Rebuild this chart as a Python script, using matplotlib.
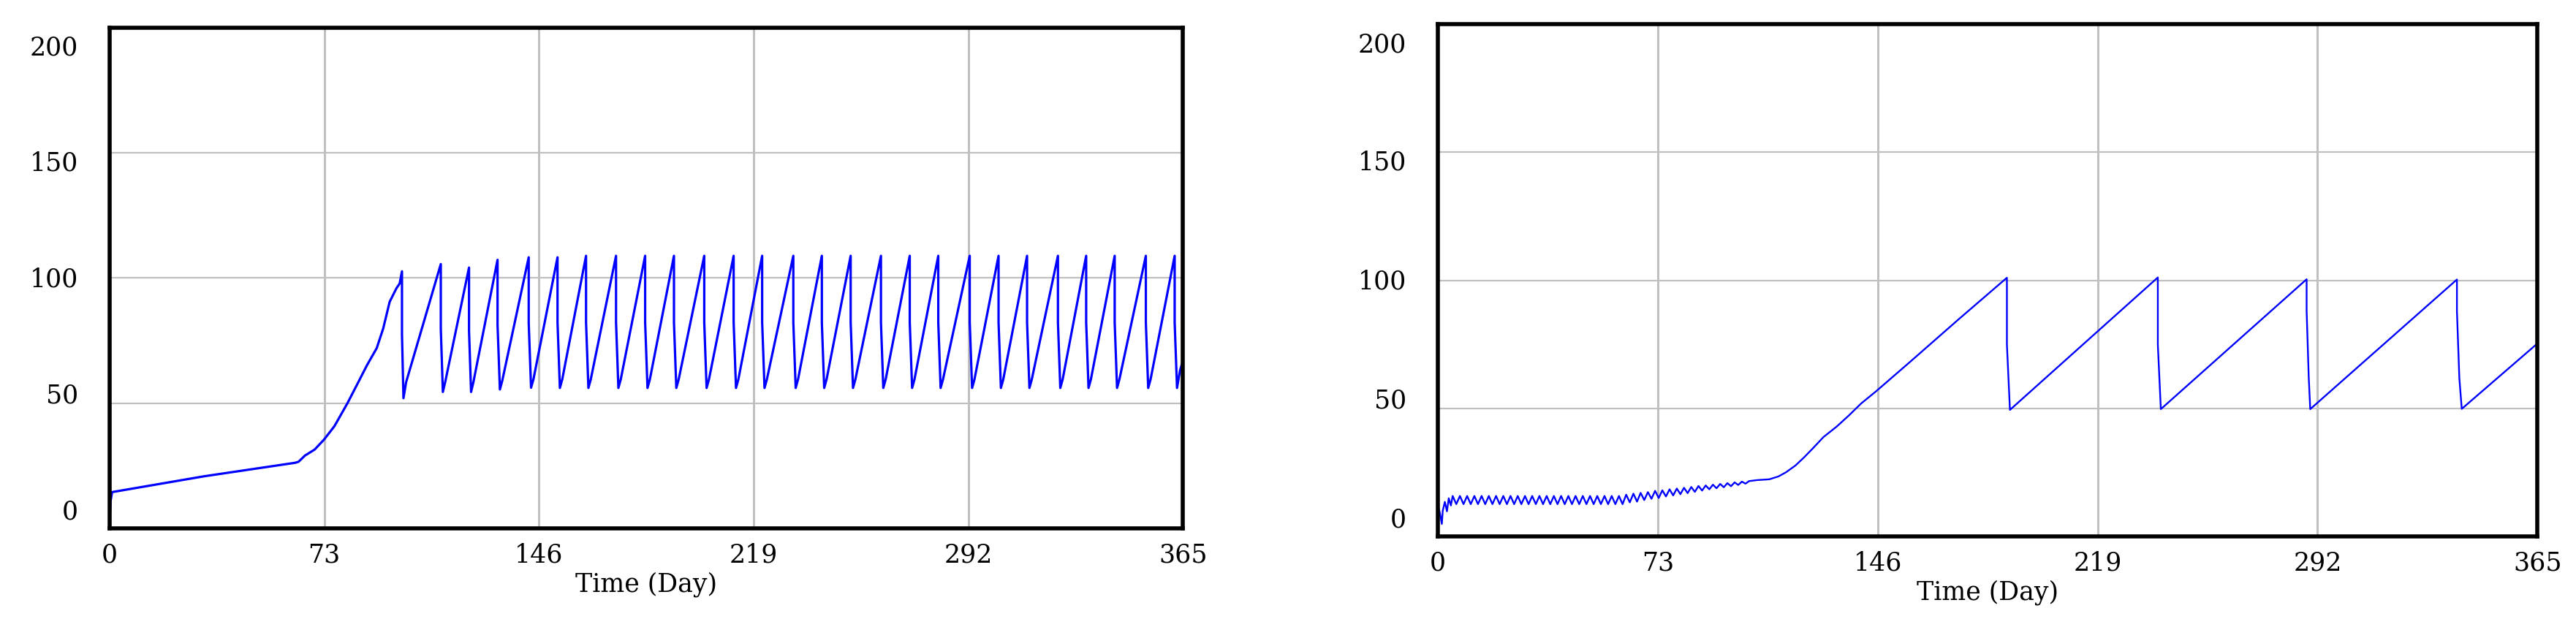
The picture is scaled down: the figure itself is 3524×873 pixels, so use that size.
import matplotlib
matplotlib.use("Agg")
import matplotlib.pyplot as plt

# left run: vertices (day, level)
left_day = [
    0, 0.3, 0.8, 32, 63, 64.2, 66.4, 69.7, 72.9, 76.4, 80.8, 84.1, 87.5,
    90.8, 93.0, 95.2, 97.5, 98.6, 99.4,
    99.4, 99.9, 100.8, 112.6,
    112.6, 113.3, 114.1, 122.2,
    122.2, 122.9, 123.7, 131.9,
    131.9, 132.7, 133.5, 142.5,
    142.5, 143.3, 144.1, 152.3,
    152.3, 153.1, 153.9, 162.0,
    162.0, 162.8, 163.6, 172.2,
    172.2, 173.0, 173.8, 182.1,
    182.1, 182.9, 183.7, 191.9,
    191.9, 192.7, 193.5, 202.2,
    202.2, 203.0, 203.8, 212.2,
    212.2, 213.0, 213.8, 221.9,
    221.9, 222.7, 223.5, 232.5,
    232.5, 233.3, 234.1, 242.2,
    242.2, 243.0, 243.8, 252.0,
    252.0, 252.8, 253.6, 262.3,
    262.3, 263.1, 263.9, 272.1,
    272.1, 272.9, 273.7, 281.8,
    281.8, 282.6, 283.4, 292.5,
    292.5, 293.3, 294.1, 302.3,
    302.3, 303.1, 303.9, 312.0,
    312.0, 312.8, 313.6, 322.5,
    322.5, 323.3, 324.1, 332.1,
    332.1, 332.9, 333.7, 341.8,
    341.8, 342.6, 343.4, 352.4,
    352.4, 353.2, 354.0, 362.2,
    362.2, 363.0, 364.0, 365.0,
]
left_val = [
    4.7, 11.0, 14.5, 20.8, 26.2, 26.6, 29.1, 31.5, 35.5, 40.8, 49.9, 57.4, 65.2,
    72.0, 79.8, 90.5, 95.9, 97.8, 102.7,
    77.4, 52.0, 58.4, 105.6,
    79.8, 54.5, 58.5, 104.2,
    78.9, 54.5, 58.5, 107.3,
    81.3, 55.5, 59.0, 108.3,
    82.0, 56.2, 59.5, 108.3,
    82.3, 56.1, 59.5, 108.9,
    82.3, 56.1, 59.5, 108.9,
    82.3, 56.1, 59.5, 108.9,
    82.3, 56.1, 59.5, 108.9,
    82.3, 56.1, 59.5, 108.9,
    82.3, 56.1, 59.5, 108.9,
    82.3, 56.1, 59.5, 108.9,
    82.3, 56.1, 59.5, 108.9,
    82.3, 56.1, 59.5, 108.9,
    82.3, 56.1, 59.5, 108.9,
    82.3, 56.1, 59.5, 108.9,
    82.3, 56.1, 59.5, 108.9,
    82.3, 56.1, 59.5, 108.9,
    82.3, 56.1, 59.5, 108.9,
    82.3, 56.1, 59.5, 108.9,
    82.3, 56.1, 59.5, 108.9,
    82.3, 56.1, 59.5, 108.9,
    82.3, 56.1, 59.5, 108.9,
    82.3, 56.1, 59.5, 108.9,
    82.3, 56.1, 59.5, 108.9,
    82.3, 56.1, 59.5, 108.9,
    82.3, 56.1, 63.0, 67.0,
]

# right run
right_day = [
    0, 0.1, 0.7, 1.3, 1.6, 2.3, 3.0, 3.6, 4.3,
    4.9, 6.1, 7.3, 8.5, 9.7, 10.9, 12.1, 13.3, 14.5, 15.7, 16.9, 18.1, 19.3, 20.5, 21.7, 22.9,
    24.1, 25.3, 26.5, 27.7, 28.9, 30.1, 31.3, 32.5, 33.7, 34.9, 36.1, 37.3, 38.5, 39.7, 40.9, 42.1,
    43.3, 44.5, 45.7, 46.9, 48.1, 49.3, 50.5, 51.7, 52.9, 54.1, 55.3, 56.5, 57.7, 58.9, 60.1, 61.3,
    62.5, 63.7, 64.9, 66.1, 67.3, 68.5, 69.7, 70.9, 72.1, 73.3, 74.5, 75.7, 76.9, 78.1, 79.3, 80.5,
    81.7, 82.9, 84.1, 85.3, 86.5, 87.7, 88.9, 90.1, 91.3, 92.5, 93.7, 94.9, 96.1, 97.3, 98.5, 99.7,
    100.9, 102.1, 103.3,
    106.0, 110.0, 113.0, 115.5, 118.7, 121.5, 124.4, 128.0, 132.4, 136.5, 140.5, 145.5, 156.7, 172.9,
    188.9, 188.9, 189.9, 239.0, 239.0, 240.0, 288.4, 288.4, 289.1, 289.6,
    338.3, 338.3, 339.1, 339.9, 365.0,
]
right_val = [
    5.0, 12.0, 8.8, 4.9, 10.0, 13.5, 9.8, 14.9, 12.1,
    15.8, 12.6, 15.8, 12.6, 15.8, 12.6, 15.8, 12.6, 15.8, 12.6, 15.8, 12.6, 15.8, 12.6, 15.8, 12.6,
    15.8, 12.6, 15.8, 12.6, 15.8, 12.6, 15.8, 12.6, 15.8, 12.6, 15.8, 12.6, 15.8, 12.6, 15.8, 12.6,
    15.8, 12.6, 15.8, 12.6, 15.8, 12.6, 15.8, 12.6, 15.8, 12.6, 15.8, 12.6, 15.8, 12.6, 15.8, 12.6,
    16.3, 13.3, 16.7, 13.6, 17.0, 14.2, 17.3, 14.7, 17.8, 15.0, 18.0, 15.6, 18.4, 16.0, 18.7, 16.5,
    19.0, 16.9, 19.3, 17.4, 19.7, 17.9, 19.9, 18.4, 20.2, 18.8, 20.5, 19.2, 20.8, 19.6, 21.1, 20.1,
    21.4, 20.6, 21.6,
    22.0, 22.3, 23.4, 25.0, 27.7, 30.8, 34.3, 38.8, 42.9, 47.3, 51.9, 56.7, 68.1, 84.8,
    101.0, 74.9, 49.4, 101.1, 74.9, 49.7, 100.4, 88.0, 62.1, 49.7,
    100.3, 88.0, 61.8, 49.8, 75.3,
]

x_ticks = [0, 73, 146, 219, 292, 365]
y_labels = ['0', '50', '100', '150', '200']
y_grid = [50, 100, 150]
# the y labels sit a little inside the gridlines, as in the original
y_label_pos = [7.5, 54, 100.5, 147, 193]

fig = plt.figure(figsize=(35.24, 8.73), dpi=100)
ax1 = fig.add_axes([0.0426, 0.1718, 0.4166, 0.7847])
ax2 = fig.add_axes([0.5582, 0.1592, 0.4268, 0.8030])

for ax, days, vals, lw in ((ax1, left_day, left_val, 2.3),
                           (ax2, right_day, right_val, 1.7)):
    ax.plot(days, vals, color='#0000ff', lw=lw, zorder=3)
    ax.set_xlim(0, 365)
    ax.set_ylim(0, 200)
    ax.set_xticks(x_ticks)
    ax.set_xticklabels([str(t) for t in x_ticks])
    ax.set_yticks(y_label_pos)
    ax.set_yticklabels(y_labels)
    ax.set_yticks(y_grid, minor=True)
    ax.tick_params(which='both', length=0, labelsize=25,
                   labelfontfamily='DejaVu Serif')
    ax.tick_params(axis='x', pad=14)
    ax.tick_params(axis='y', pad=31)
    ax.grid(axis='x', which='major', color='#c0c0c0', lw=2.2)
    ax.grid(axis='y', which='minor', color='#c0c0c0', lw=1.6)
    ax.set_axisbelow(True)
    for s in ax.spines.values():
        s.set_linewidth(4)
        s.set_color('black')
        s.set_zorder(4)
    ax.set_xlabel('Time (Day)', fontfamily='DejaVu Serif', fontsize=25,
                  labelpad=4)

fig.savefig('out.png', dpi=100)
